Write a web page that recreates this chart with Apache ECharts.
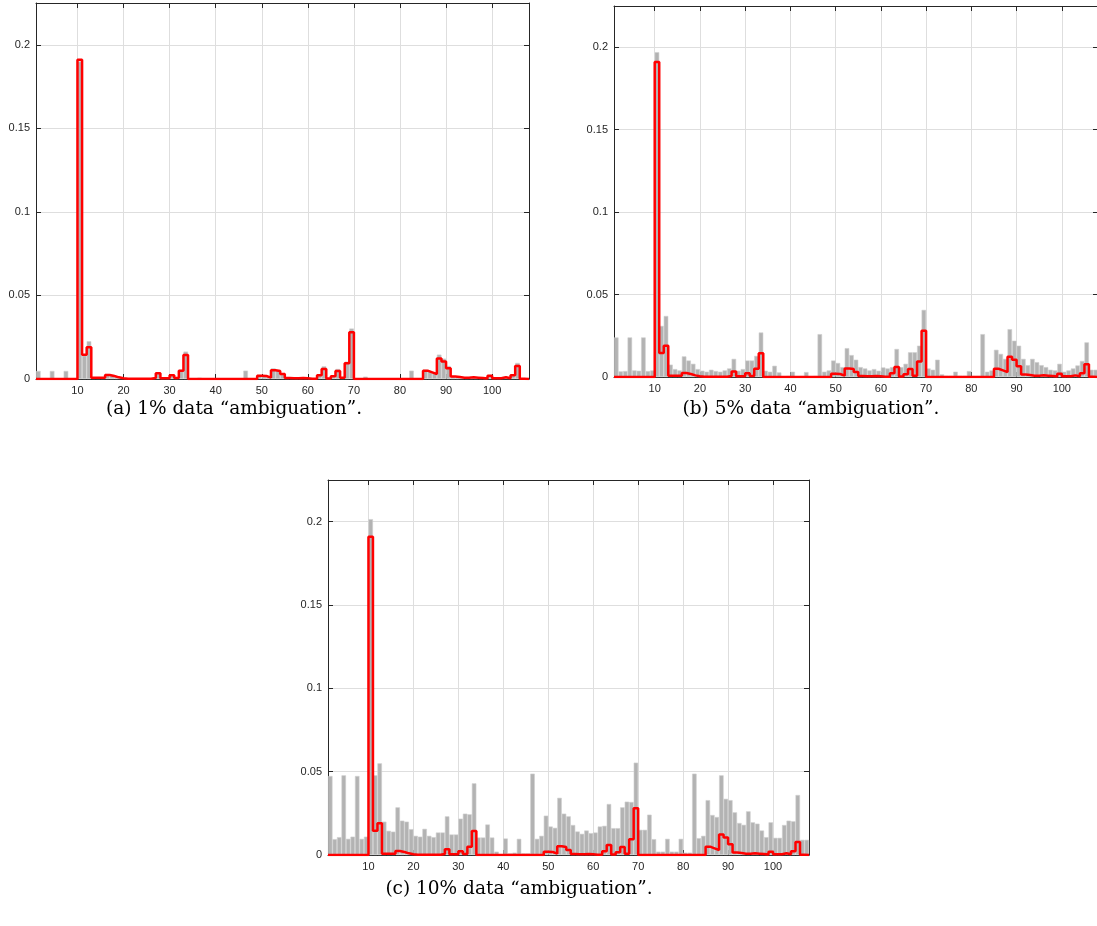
<!DOCTYPE html>
<html><head><meta charset="utf-8">
<script src="https://cdn.jsdelivr.net/npm/echarts@6/dist/echarts.min.js"></script>
<style>html,body{margin:0;padding:0;background:#fff}#c{width:1097px;height:926px}</style>
</head><body><div id="c"></div><script>
// x tick labels (bin edges) and y tick labels
const xTicks = [10, 20, 30, 40, 50, 60, 70, 80, 90, 100];
const yTicks = [0, 0.05, 0.1, 0.15, 0.2];
const xMin = 1, xMax = 108, yMax = 0.225;

// bins 1..107 (bin k spans [k, k+1])
const bins = Array.from({length: 107}, (_, i) => i + 1);

// true distribution (red stairs)
const trueDist = [
 0,0,0,0,0,0,0,0,0,0.191,
 0.0145,0.019,0.0008,0.0008,0.0008,0.0024,0.0018,0.001,0.0004,0.0002,
 0.0002,0.0002,0.0002,0.0002,0.0002,0.0006,0.0034,0.0004,0.0005,0.0022,
 0.0006,0.005,0.0144,0,0,0,0,0,0,0,
 0,0,0,0,0,0,0,0,0.002,0.0018,
 0.0008,0.0052,0.0048,0.003,0.0006,0.0004,0.0004,0.0006,0.0004,0.0002,
 0.0002,0.0022,0.006,0.0003,0.0016,0.0048,0.0008,0.0094,0.028,0,
 0,0,0,0,0,0,0,0,0,0,
 0,0,0,0,0.005,0.004,0.003,0.0123,0.0105,0.0065,
 0.0015,0.0012,0.0008,0.0008,0.001,0.0008,0.0006,0.0003,0.002,0.0004,
 0.0004,0.001,0.0004,0.0022,0.0078,0.0002,0
];

// (a) 1% ambiguation (gray bars)
const amb1 = [
 0.0048,0,0,0.0048,0,0,0.0048,0,0,0.19,
 0.014,0.0226,0.001,0.001,0.001,0.003,0.0024,0.0012,0.0006,0.0004,
 0.0004,0.0004,0.0004,0.0004,0.0004,0.0008,0.0038,0.0006,0.0006,0.0026,
 0.0008,0.0056,0.0164,0.0004,0.0004,0.0008,0.0002,0,0,0,
 0,0,0,0,0,0.005,0.0002,0.0002,0.0024,0.0022,
 0.001,0.0064,0.0054,0.0034,0.0008,0.0006,0.0006,0.0008,0.0006,0.0004,
 0.0004,0.0026,0.0076,0.0006,0.002,0.006,0.001,0.0104,0.0302,0.0004,
 0.0004,0.0014,0,0,0,0,0,0,0,0,
 0,0.005,0.0002,0.0002,0.0056,0.0046,0.0034,0.0146,0.0122,0.0078,
 0.0018,0.0014,0.001,0.001,0.0014,0.001,0.0008,0.0004,0.0024,0.0006,
 0.0006,0.0012,0.0006,0.0026,0.0096,0.0004,0.0002
];

// (b) 5% ambiguation
const amb5 = [
 0.024,0.0034,0.0036,0.024,0.004,0.0038,0.024,0.0036,0.004,0.197,
 0.031,0.037,0.0075,0.0048,0.004,0.0125,0.01,0.008,0.0048,0.0038,
 0.0032,0.0044,0.0036,0.0032,0.004,0.0052,0.011,0.0038,0.0048,0.01,
 0.01,0.0128,0.027,0.0038,0.0032,0.0068,0.0028,0.0004,0.0006,0.0032,
 0.0004,0.0006,0.003,0.0004,0.0006,0.026,0.0032,0.004,0.01,0.0085,
 0.006,0.0175,0.0133,0.0105,0.006,0.0052,0.004,0.0048,0.0038,0.0058,
 0.0052,0.006,0.017,0.006,0.008,0.015,0.015,0.019,0.0407,0.0052,
 0.0044,0.0105,0.0016,0.0008,0.0008,0.0032,0.0008,0.0008,0.0036,0.0006,
 0.0006,0.026,0.0032,0.004,0.0165,0.014,0.011,0.029,0.022,0.019,
 0.011,0.0072,0.011,0.009,0.0072,0.006,0.0044,0.004,0.008,0.0032,
 0.004,0.0052,0.007,0.0097,0.021,0.0044,0.0044
];

// (c) 10% ambiguation
const amb10 = [
 0.0474,0.0095,0.0107,0.0478,0.0097,0.011,0.0474,0.0097,0.011,0.2015,
 0.0478,0.055,0.02,0.0145,0.014,0.0286,0.0206,0.02,0.0155,0.0115,
 0.011,0.0157,0.0115,0.0107,0.0135,0.0135,0.0232,0.0123,0.0123,0.0218,
 0.0248,0.0244,0.043,0.0105,0.0105,0.0183,0.0105,0.002,0.0004,0.0099,
 0.001,0.0014,0.0097,0.001,0.001,0.0488,0.0097,0.0115,0.0236,0.0171,
 0.0163,0.0343,0.0248,0.0232,0.018,0.0141,0.0127,0.0147,0.0131,0.0135,
 0.0171,0.0175,0.0306,0.0161,0.0161,0.0286,0.032,0.0318,0.0554,0.0151,
 0.0151,0.0242,0.0095,0.002,0.002,0.0097,0.002,0.002,0.0097,0.0014,
 0.0014,0.0488,0.0101,0.0115,0.0329,0.024,0.0228,0.0478,0.0337,0.0329,
 0.0256,0.0192,0.0181,0.0262,0.0196,0.0188,0.0147,0.0107,0.0196,0.0103,
 0.0103,0.018,0.0206,0.0202,0.036,0.0091,0.0091
];

const captions = [
  '(a) 1% data \u201Cambiguation\u201D.',
  '(b) 5% data \u201Cambiguation\u201D.',
  '(c) 10% data \u201Cambiguation\u201D.'
];
const panelData = [amb1, amb5, amb10];

// layout
const grids = [
  {left: 36, top: 3, width: 493, height: 376},
  {left: 614, top: 6, width: 484, height: 371},
  {left: 328, top: 480, width: 481, height: 375}
];
const captionPos = [[234, 409], [811, 409], [519, 889]];

const AX = '#262626';
const labelFont = {color: AX, fontSize: 11, fontFamily: 'Liberation Sans, Arial, sans-serif'};

const xAxes = [], yAxes = [], series = [];
grids.forEach((g, p) => {
  const base = {type: 'value', gridIndex: p, min: xMin, max: xMax};
  xAxes.push(Object.assign({}, base, {
    position: 'bottom',
    axisLine: {show: true, onZero: false, lineStyle: {color: AX, width: 1}},
    axisTick: {show: true, inside: true, length: 5, customValues: xTicks, lineStyle: {color: AX}},
    axisLabel: Object.assign({show: true, margin: 6, customValues: xTicks}, labelFont),
    splitLine: {show: true, lineStyle: {color: '#dedede', width: 1}}
  }));
  xAxes.push(Object.assign({}, base, {
    position: 'top',
    axisLine: {show: true, onZero: false, lineStyle: {color: AX, width: 1}},
    axisTick: {show: true, inside: true, length: 5, customValues: xTicks, lineStyle: {color: AX}},
    axisLabel: {show: false},
    splitLine: {show: false}
  }));
  const ybase = {type: 'value', gridIndex: p, min: 0, max: yMax};
  yAxes.push(Object.assign({}, ybase, {
    position: 'left',
    axisLine: {show: true, onZero: false, lineStyle: {color: AX, width: 1}},
    axisTick: {show: true, inside: true, length: 5, customValues: yTicks, lineStyle: {color: AX}},
    axisLabel: Object.assign({show: true, margin: 6, customValues: yTicks}, labelFont),
    splitLine: {show: true, lineStyle: {color: '#dedede', width: 1}}
  }));
  yAxes.push(Object.assign({}, ybase, {
    position: 'right',
    axisLine: {show: true, onZero: false, lineStyle: {color: AX, width: 1}},
    axisTick: {show: true, inside: true, length: 5, customValues: yTicks, lineStyle: {color: AX}},
    axisLabel: {show: false},
    splitLine: {show: false}
  }));
  const gray = panelData[p];
  series.push({
    type: 'bar',
    xAxisIndex: 2 * p, yAxisIndex: 2 * p,
    barWidth: '100%',
    itemStyle: {color: '#b3b3b3', borderColor: '#cfcfcf', borderWidth: 0.6},
    data: bins.map((b, i) => [b + 0.5, gray[i]]),
    z: 2
  });
  series.push({
    type: 'line',
    xAxisIndex: 2 * p, yAxisIndex: 2 * p,
    step: 'end',
    symbol: 'none',
    showSymbol: false,
    lineStyle: {color: '#ff0000', width: 2.5},
    data: bins.map((b, i) => [b, trueDist[i]]).concat([[bins[bins.length - 1] + 1, trueDist[trueDist.length - 1]]]),
    z: 5
  });
});

const chart = echarts.init(document.getElementById('c'), null, {renderer: 'canvas'});
chart.setOption({
  animation: false,
  backgroundColor: '#ffffff',
  grid: grids.map(g => Object.assign({outerBoundsMode: 'none', containLabel: false}, g)),
  xAxis: xAxes,
  yAxis: yAxes,
  series: series,
  graphic: captions.map((t, i) => ({
    type: 'text',
    x: captionPos[i][0], y: captionPos[i][1],
    style: {
      text: t, textAlign: 'center', textVerticalAlign: 'middle',
      font: '18.5px "DejaVu Serif", serif', fill: '#000'
    }
  }))
});
</script></body></html>
